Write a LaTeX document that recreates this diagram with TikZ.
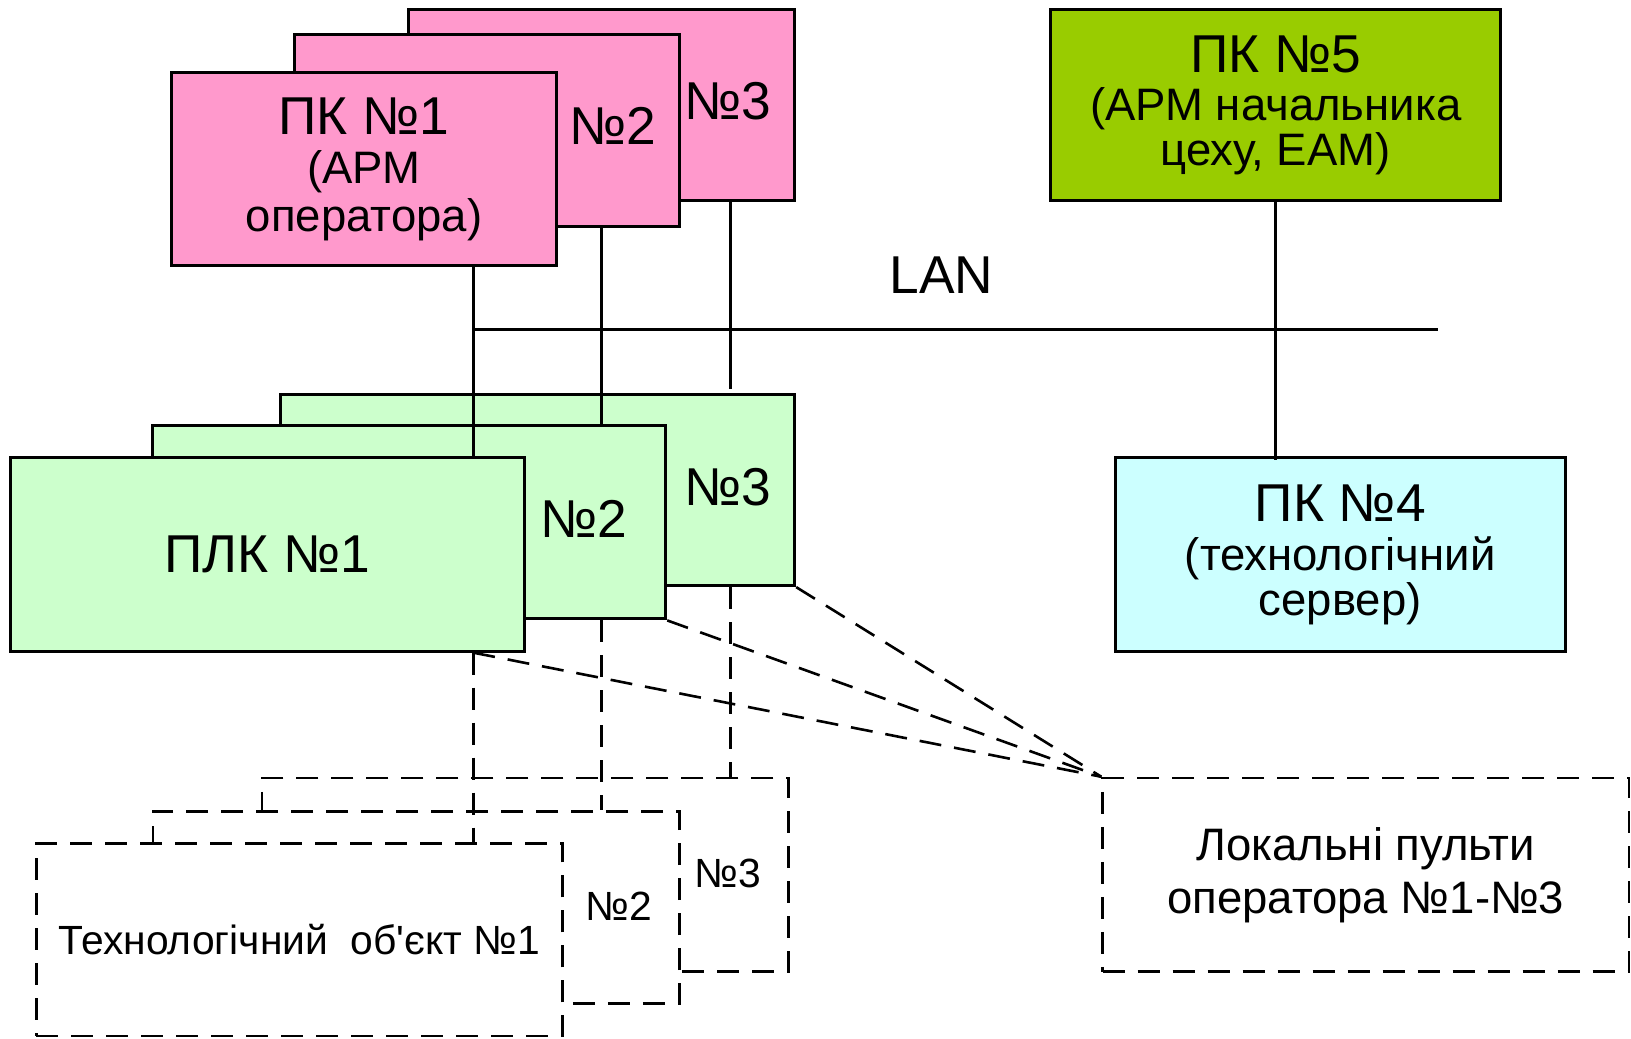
\documentclass[tikz,border=0pt]{standalone}
\usepackage{fontspec}
\setmainfont{Liberation Sans}[Ligatures=TeXOff]
\definecolor{pcpink}{HTML}{FF99CC}
\definecolor{plcgreen}{HTML}{CCFFCC}
\definecolor{bossgreen}{HTML}{99CC00}
\definecolor{servcyan}{HTML}{CCFFFF}
\newcommand\ttlsz{\fontsize{53.3}{53}\selectfont}
\newcommand\subsz{\fontsize{45.5}{48}\selectfont}
\newcommand\objsz{\fontsize{40.8}{44}\selectfont}
\newcommand\locsz{\fontsize{45.5}{53}\selectfont}
\begin{document}
\begin{tikzpicture}[x=1.0402pt,y=-1.0402pt,
  % rectangle given by its left, top, right and bottom edges
  rect/.style n args={4}{minimum width={(#3-#1)*1.0402pt},
    minimum height={(#4-#2)*1.0402pt},
    at={({(#1+#3)/2},{(#2+#4)/2})}},
  box/.style={draw, line width=3pt, inner sep=0pt, align=center, font=\subsz},
  pcbox/.style={box, fill=pcpink},
  plcbox/.style={box, fill=plcgreen},
  dashline/.style={line width=2.6pt, dash pattern=on 22pt off 13pt},
  objbox/.style={draw, dashline, fill=white, inner sep=0pt, align=center, font=\objsz},
  link/.style={line width=2.6pt},
  lbl/.style={inner sep=0pt, font=\ttlsz}]
\useasboundingbox (0,0) rectangle (1568,998);

% workstations of the operators
\node[pcbox, rect={393}{9}{764}{193}] (pc3) {};
\node[lbl] (pc3lab) at (700,97) {№3};
\node[pcbox, rect={283}{33}{653}{218}] (pc2) {};
\node[lbl] (pc2lab) at (589,121) {№2};
\node[pcbox, rect={165}{70}{535}{255}] (pc1)
  {{\ttlsz ПК №1}\\[1pt](АРМ\\оператора)};

% shop manager workstation and process server
\node[box, fill=bossgreen, rect={1010}{9}{1443}{193}] (pc5)
  {{\ttlsz ПК №5}\\[0pt](АРМ начальника\\[-3pt]цеху, ЕАМ)};
\node[box, fill=servcyan, rect={1072}{440}{1505}{626}] (pc4)
  {{\ttlsz ПК №4}\\[1pt](технологічний\\[-3pt]сервер)};

% controllers
\node[plcbox, rect={270}{379}{764}{563}] (plc3) {};
\node[lbl] (plc3lab) at (700,468) {№3};
\node[plcbox, rect={147}{409}{640}{595}] (plc2) {};
\node[lbl] (plc2lab) at (561,499) {№2};
\node[plcbox, rect={10}{440}{504}{626}, font=\ttlsz] (plc1) {ПЛК №1};

% bus positions of the three operator stations
\coordinate (bus1) at (455,317);
\coordinate (bus2) at (578,317);
\coordinate (bus3) at (702,317);
\coordinate (lanend) at (1382,317);

% LAN
\node[lbl] (lan) at (905,265) {LAN};
\draw[link] (bus1) -- (lanend);
\draw[link] (pc1.south -| bus1) -- (plc1.north -| bus1);
\draw[link] (pc2.south -| bus2) -- (plc2.north -| bus2);
\draw[link] (pc3.south -| bus3) -- ([yshift=4pt]plc3.north -| bus3);
\draw[link] (pc5.south) -- ([yshift=-4pt]pc4.north -| pc5.south);

% process objects
\node[objbox, rect={252}{748}{758}{934}] (obj3) {};
\node[inner sep=0pt, font=\objsz] (obj3lab) at (700,840) {№3};
\node[objbox, rect={147}{780}{653}{965}] (obj2) {};
\node[inner sep=0pt, font=\objsz] (obj2lab) at (595,871) {№2};
\node[objbox, rect={35}{811}{541}{996}] (obj1) {Технологічний~~об'єкт №1};

% local operator panels
\node[objbox, rect={1060}{748}{1566}{934}, font=\locsz] (loc)
  {Локальні пульти\\оператора №1-№3};

% field links
\draw[dashline] (plc1.south -| bus1) -- (obj1.north -| bus1);
\draw[dashline] (plc2.south -| bus2) -- (obj2.north -| bus2);
\draw[dashline] (plc3.south -| bus3) -- (obj3.north -| bus3);
\draw[dashline] (plc1.south -| bus1) -- (loc.north west);
\draw[dashline] (plc2.south east) -- (loc.north west);
\draw[dashline] (plc3.south east) -- (loc.north west);
\end{tikzpicture}
\end{document}
